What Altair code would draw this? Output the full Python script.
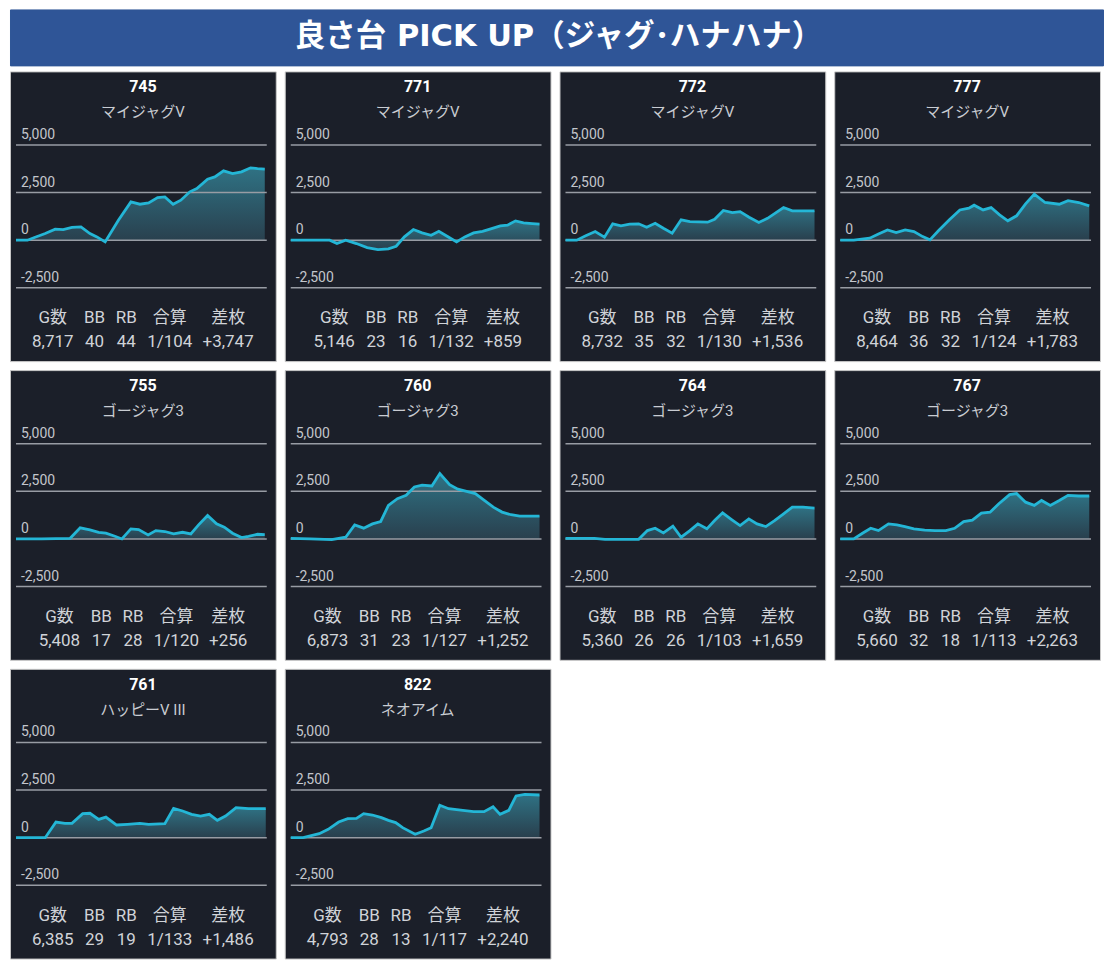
import altair as alt
import pandas as pd

TITLE = "良さ台 PICK UP（ジャグ･ハナハナ）"

machines = ["745", "771", "772", "777", "755", "760", "764", "767", "761", "822"]
names = ["マイジャグV", "マイジャグV", "マイジャグV", "マイジャグV",
         "ゴージャグ3", "ゴージャグ3", "ゴージャグ3", "ゴージャグ3",
         "ハッピーV III", "ネオアイム"]
g_counts = ["8,717", "5,146", "8,732", "8,464", "5,408", "6,873", "5,360", "5,660", "6,385", "4,793"]
bb = ["40", "23", "35", "36", "17", "31", "26", "32", "29", "28"]
rb = ["44", "16", "32", "32", "28", "23", "26", "18", "19", "13"]
gassan = ["1/104", "1/132", "1/130", "1/124", "1/120", "1/127", "1/103", "1/113", "1/133", "1/117"]
samai = ["+3,747", "+859", "+1,536", "+1,783", "+256", "+1,252", "+1,659", "+2,263", "+1,486", "+2,240"]
headers = ["G数", "BB", "RB", "合算", "差枚"]

grid_vals = [-2500, 0, 2500, 5000]
grid_labels = ["-2,500", "0", "2,500", "5,000"]

# progress through the day (%) and 差枚 (medals) per machine
x_745 = [0, 4.6, 7.4, 11.7, 15.7, 18.9, 22.4, 26.0, 29.6, 32.4, 35.7, 41.0, 46.0, 49.6, 53.1, 56.7, 59.6, 62.9, 66.0, 69.6, 72.4, 76.7, 79.6, 83.1, 86.7, 90.3, 93.9, 96.7, 99.6]
y_745 = [0, 0, 140, 350, 580, 560, 670, 700, 350, 175, -90, 1050, 2010, 1890, 1960, 2240, 2275, 1890, 2100, 2540, 2710, 3200, 3325, 3640, 3500, 3590, 3800, 3760, 3730]

x_771 = [0, 12.1, 15.6, 18.5, 22.0, 26.3, 30.6, 34.9, 39.1, 42.2, 45.5, 49.1, 52.6, 56.2, 59.3, 62.6, 66.4, 69.7, 73.2, 76.8, 80.4, 83.9, 86.8, 90.0, 93.2, 96.7, 99.6]
y_771 = [0, 0, 0, -175, 0, -175, -385, -490, -455, -315, 175, 560, 385, 260, 470, 210, -90, 175, 385, 470, 610, 750, 790, 1015, 910, 875, 840]

x_772 = [0, 4.5, 8.1, 11.9, 15.6, 18.9, 22.2, 25.7, 29.3, 32.5, 35.9, 39.2, 42.7, 46.3, 49.8, 53.3, 56.9, 59.7, 63.2, 66.8, 69.9, 73.5, 77.4, 80.9, 84.0, 87.3, 90.8, 95.1, 99.7]
y_772 = [0, 0, 230, 455, 160, 860, 750, 840, 860, 680, 890, 630, 370, 1070, 980, 960, 945, 1100, 1560, 1450, 1500, 1210, 930, 1150, 1420, 1715, 1540, 1540, 1540]

x_777 = [0, 5.4, 11.8, 15.3, 18.9, 22.4, 26.0, 29.5, 33.0, 35.9, 39.4, 43.7, 47.9, 51.5, 53.6, 57.2, 60.4, 63.8, 67.1, 70.6, 74.2, 77.7, 82.0, 87.7, 91.2, 95.5, 99.7]
y_777 = [0, 0, 105, 330, 540, 400, 540, 455, 190, 20, 510, 1070, 1590, 1680, 1840, 1590, 1715, 1330, 1020, 1280, 1910, 2420, 1980, 1890, 2080, 1980, 1800]

x_755 = [0, 10.3, 21.7, 25.7, 29.6, 33.1, 36.0, 39.6, 42.4, 46.0, 49.1, 52.9, 56.0, 59.6, 63.1, 66.7, 70.0, 73.1, 76.7, 80.3, 83.4, 86.7, 90.3, 93.1, 96.7, 99.6]
y_755 = [0, 0, 35, 580, 475, 350, 300, 140, 0, 530, 490, 210, 440, 390, 265, 350, 265, 740, 1230, 790, 615, 300, 70, 140, 245, 230]

x_760 = [0, 7.8, 16.4, 22.0, 25.6, 29.2, 32.7, 36.0, 39.1, 42.7, 46.2, 49.5, 52.6, 56.5, 59.7, 63.6, 66.9, 70.4, 73.9, 77.5, 81.1, 84.6, 88.2, 91.7, 96.0, 99.6]
y_760 = [35, 0, -35, 90, 740, 565, 790, 915, 1760, 2110, 2290, 2730, 2820, 2780, 3430, 2850, 2610, 2500, 2380, 2020, 1670, 1410, 1270, 1200, 1200, 1200]

x_764 = [0, 11.6, 15.8, 29.3, 32.8, 35.9, 39.2, 43.0, 46.3, 49.8, 53.0, 56.6, 59.7, 62.9, 66.5, 69.9, 73.4, 76.7, 80.2, 83.7, 87.3, 90.8, 95.1, 99.7]
y_764 = [35, 35, -20, -20, 440, 565, 315, 670, 90, 440, 790, 530, 965, 1370, 1020, 700, 1055, 790, 650, 965, 1315, 1670, 1670, 1615]

x_767 = [0, 5.4, 8.9, 12.2, 15.3, 19.3, 22.7, 25.9, 29.5, 33.8, 38.0, 42.3, 45.8, 49.4, 52.9, 56.5, 60.0, 63.5, 67.8, 70.6, 74.2, 77.7, 80.6, 84.1, 87.7, 91.2, 95.5, 99.7]
y_767 = [0, 0, 300, 560, 440, 790, 740, 650, 530, 460, 440, 440, 560, 915, 985, 1355, 1405, 1845, 2325, 2380, 1930, 1760, 2020, 1760, 2020, 2290, 2255, 2255]

x_761 = [0, 11.7, 16.0, 19.6, 22.4, 26.7, 29.6, 33.1, 36.0, 40.3, 44.6, 49.6, 53.1, 59.6, 63.1, 66.7, 70.3, 73.9, 77.4, 80.6, 83.9, 88.1, 93.1, 100]
y_761 = [0, 0, 820, 750, 750, 1260, 1280, 960, 1080, 665, 700, 750, 700, 735, 1540, 1400, 1225, 1135, 1225, 910, 1135, 1575, 1520, 1520]

x_822 = [0, 5.0, 11.4, 15.0, 19.2, 22.8, 26.3, 29.2, 32.7, 36.3, 39.1, 42.0, 44.8, 49.8, 53.3, 56.2, 59.7, 63.2, 68.9, 73.2, 77.4, 81.0, 83.8, 87.3, 90.2, 93.7, 99.6]
y_822 = [0, 0, 210, 440, 820, 1000, 1015, 1260, 1190, 1050, 910, 790, 525, 175, 350, 525, 1700, 1520, 1435, 1365, 1365, 1625, 1225, 1435, 2190, 2275, 2240]

series_x = [x_745, x_771, x_772, x_777, x_755, x_760, x_764, x_767, x_761, x_822]
series_y = [y_745, y_771, y_772, y_777, y_755, y_760, y_764, y_767, y_761, y_822]

# ---- styling / layout ----
FONT = "Roboto, 'Noto Sans CJK JP', sans-serif"
TITLE_FONT = "'DejaVu Sans', 'Noto Sans CJK JP', sans-serif"
W, H = 266, 290
X_DOM = [-2.4, 104.0]
Y_DOM = [-6346, 8863]
CARD_BG = "#1b1f29"
CARD_BORDER = "#c8c8c8"
LINE_C = "#24b6d6"
GRID_C = "#989ca4"
TEXT_C = "#d0d3d8"
STAT_SIZE = 17
COL_GAP = 10


def text_width(s, size):
    w = 0.0
    for ch in s:
        if ch.isdigit():
            w += 0.562 * size
        elif ch == ",":
            w += 0.22 * size
        elif ch == "/":
            w += 0.41 * size
        elif ch == "+":
            w += 0.57 * size
        elif ord(ch) > 0x2E80:
            w += 1.0 * size
        else:
            w += 0.64 * size
    return w


def panel(i):
    xs = alt.Scale(domain=X_DOM, nice=False, zero=False)
    ys = alt.Scale(domain=Y_DOM, nice=False, zero=False)
    df = pd.DataFrame({"x": series_x[i], "y": series_y[i]})
    base = alt.Chart(df).encode(
        x=alt.X("x:Q", scale=xs, axis=None),
        y=alt.Y("y:Q", scale=ys, axis=None),
    )
    area = base.mark_area(
        color=alt.Gradient(
            gradient="linear",
            stops=[alt.GradientStop(color="#2f7284", offset=0),
                   alt.GradientStop(color="#293f4d", offset=1)],
            x1=0, x2=0, y1=0, y2=1,
        )
    ).encode(y2=alt.datum(0))
    line = base.mark_line(color=LINE_C, strokeWidth=2.8)

    gdf = pd.DataFrame({"v": grid_vals, "lab": grid_labels})
    rules = alt.Chart(gdf).mark_rule(color=GRID_C, strokeWidth=1.5).encode(
        y=alt.Y("v:Q", scale=ys, axis=None),
        x=alt.value(6), x2=alt.value(257),
    )
    labels = alt.Chart(gdf).mark_text(
        align="left", baseline="middle", dy=-10, color="#c3c6cc", fontSize=14, font=FONT
    ).encode(
        y=alt.Y("v:Q", scale=ys, axis=None),
        x=alt.value(11),
        text="lab:N",
    )

    num = alt.Chart(pd.DataFrame({"t": [machines[i]]})).mark_text(
        font=FONT, fontSize=16, fontWeight="bold", color="#ffffff"
    ).encode(text="t:N", x=alt.value(W / 2), y=alt.value(16))
    name = alt.Chart(pd.DataFrame({"t": [names[i]]})).mark_text(
        font=FONT, fontSize=15, color="#c9ccd2"
    ).encode(text="t:N", x=alt.value(W / 2), y=alt.value(41))

    vals = [g_counts[i], bb[i], rb[i], gassan[i], samai[i]]
    widths = [max(text_width(h, STAT_SIZE), text_width(v, STAT_SIZE)) for h, v in zip(headers, vals)]
    total = sum(widths) + COL_GAP * (len(widths) - 1)
    left = W / 2 - total / 2
    stat_layers = []
    for h, v, w in zip(headers, vals, widths):
        cx = left + w / 2
        left += w + COL_GAP
        stat_layers.append(
            alt.Chart(pd.DataFrame({"t": [h + "\n" + v]})).mark_text(
                font=FONT, fontSize=STAT_SIZE, color=TEXT_C, lineBreak="\n",
                lineHeight=24, baseline="middle", align="center",
            ).encode(text="t:N", x=alt.value(cx), y=alt.value(247))
        )

    return alt.layer(area, rules, line, labels, num, name, *stat_layers).properties(
        width=W, height=H,
        view=alt.ViewBackground(fill=CARD_BG, stroke=CARD_BORDER, strokeWidth=1),
    )


panels = [panel(i) for i in range(len(machines))]
rows = [alt.hconcat(*panels[k:k + 4], spacing=7) for k in range(0, len(panels), 4)]
grid = alt.vconcat(*rows, spacing=7)

banner = alt.Chart(pd.DataFrame({"t": [TITLE]})).mark_text(
    font=TITLE_FONT, fontSize=30.5, fontWeight="bold", color="#ffffff",
    align="center", baseline="middle",
).encode(text="t:N", x=alt.value(549), y=alt.value(28)).properties(
    width=1094, height=56,
    view=alt.ViewBackground(fill="#2f5597", stroke="#2f5597"),
)

chart = alt.vconcat(banner, grid, spacing=4).properties(
    padding={"left": 1, "top": 0, "right": 0, "bottom": 0},
    background="#ffffff",
)

chart.save("out.html", embed_options={"renderer": "svg", "actions": False})
